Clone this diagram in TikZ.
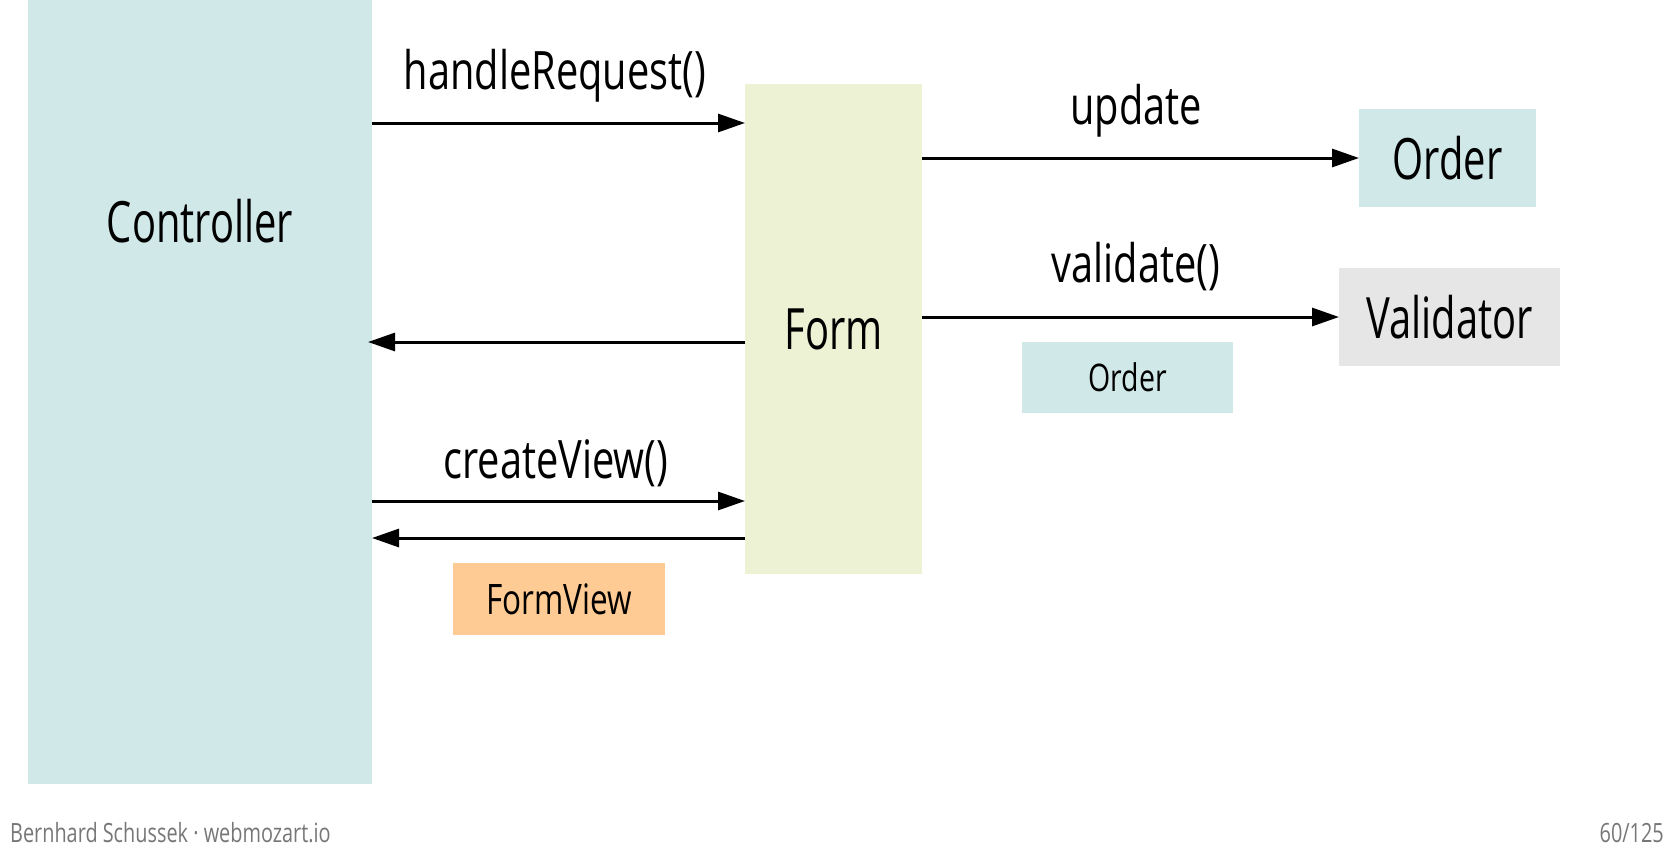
\documentclass[tikz,border=0pt]{standalone}
\usepackage{fontspec}
\setmainfont[FakeStretch=0.75]{Open Sans}
\newfontfamily\bigfont[FakeStretch=0.7]{Open Sans}
\usetikzlibrary{arrows.meta}
\definecolor{cblue}{HTML}{D1E8E8}
\definecolor{cgreen}{HTML}{ECF2D3}
\definecolor{corange}{HTML}{FFCB94}
\definecolor{cgray}{HTML}{E6E6E6}
\definecolor{cfoot}{HTML}{777777}
\tikzset{
  box/.style={rectangle, inner sep=0pt, outer sep=0pt, draw=none, align=center},
  bigtxt/.style={font=\bigfont\fontsize{57}{60}\selectfont},
  lbl/.style={font=\fontsize{53}{56}\selectfont, anchor=base, inner sep=0pt},
  arr/.style={line width=3pt, -{Triangle[length=27pt,width=18pt]}},
  foot/.style={font=\fontsize{26.5}{28}\selectfont, text=cfoot, inner sep=0pt}
}
\begin{document}
\begin{tikzpicture}[x=1pt,y=-1pt]
\useasboundingbox (0,0) rectangle (1672,857);
\fill[white] (0,0) rectangle (1672,857);
% boxes
\node[box, fill=cblue, minimum width=344pt, minimum height=784pt] (ctrl) at (200,392) {};
\node[bigtxt, inner sep=0pt, anchor=base] (ctrltxt) at (200,242) {Controller};
\node[box, bigtxt, fill=cgreen, minimum width=177pt, minimum height=490pt] (form) at (833.5,329) {Form};
\node[box, bigtxt, fill=cblue, minimum width=177pt, minimum height=98pt] (order) at (1447.5,158) {Order};
\node[box, bigtxt, fill=cgray, minimum width=221pt, minimum height=98pt] (valid) at (1449.5,317) {Validator};
\node[box, font=\fontsize{38}{40}\selectfont, fill=cblue, minimum width=211pt, minimum height=71pt] (order2) at (1127.5,377.5) {Order};
\node[box, font=\fontsize{42}{44}\selectfont, fill=corange, minimum width=212pt, minimum height=72pt] (fview) at (559,599) {FormView};
% arrows
\draw[arr] (ctrl.east |- 0,123) -- (form.west |- 0,123);
\draw[arr] (form.west |- 0,342) -- ([xshift=-4pt]ctrl.east |- 0,342);
\draw[arr] (ctrl.east |- 0,501) -- (form.west |- 0,501);
\draw[arr] (form.west |- 0,538) -- (ctrl.east |- 0,538);
\draw[arr] (form.east |- order.west) -- (order.west);
\draw[arr] (form.east |- valid.west) -- (valid.west);
% labels
\node[lbl] (l1) at (555,89) {handleRequest()};
\node[lbl] (l2) at (1136,124) {update};
\node[lbl] (l3) at (1136,282) {validate()};
\node[lbl] (l4) at (556,478) {createView()};
% footer
\node[foot, anchor=base west] (f1) at (10,842) {Bernhard Schussek · webmozart.io};
\node[foot, anchor=base east] (f2) at (1664,842) {60/125};
\end{tikzpicture}
\end{document}
